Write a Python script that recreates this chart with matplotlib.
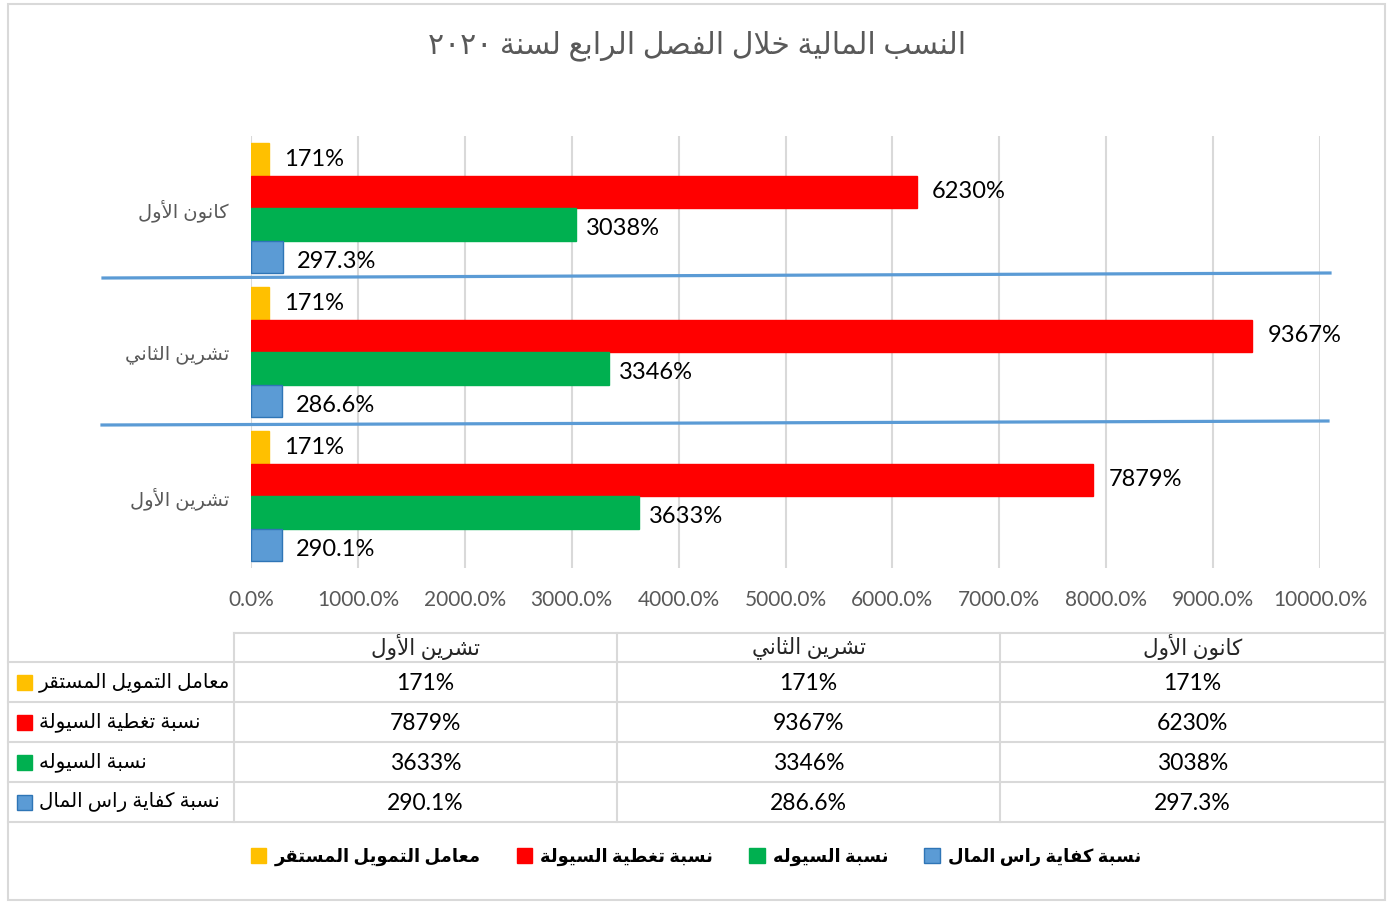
import numpy as np
import matplotlib
matplotlib.use('Agg')
import matplotlib.pyplot as plt
from matplotlib.patches import Patch, Rectangle

FAM = ['Lato', 'DejaVu Sans']
plt.rcParams['font.family'] = FAM

title = 'النسب المالية خلال الفصل الرابع لسنة ٢٠٢٠'
months = ['كانون الأول', 'تشرين الثاني', 'تشرين الأول']   # top to bottom in the chart
series = ['معامل التمويل المستقر', 'نسبة تغطية السيولة', 'نسبة السيوله', 'نسبة كفاية راس المال']
stable_funding = [171, 171, 171]
lcr = [6230, 9367, 7879]
liquidity = [3038, 3346, 3633]
capital = [297.3, 286.6, 290.1]
values = [stable_funding, lcr, liquidity, capital]
fmts = ['{:.0f}%', '{:.0f}%', '{:.0f}%', '{:.1f}%']
colors = ['#FFC000', '#FF0000', '#00B050', '#5B9BD5']
edges = ['#FFC000', '#FF0000', '#00B050', '#2E75B6']

# --- simple arabic shaping (matplotlib has no text shaping) ---
DUAL = {'ب': 0xFE8F, 'ت': 0xFE95, 'ث': 0xFE99, 'ج': 0xFE9D, 'ح': 0xFEA1, 'خ': 0xFEA5,
        'س': 0xFEB1, 'ش': 0xFEB5, 'ص': 0xFEB9, 'ض': 0xFEBD, 'ط': 0xFEC1, 'ظ': 0xFEC5,
        'ع': 0xFEC9, 'غ': 0xFECD, 'ف': 0xFED1, 'ق': 0xFED5, 'ك': 0xFED9, 'ل': 0xFEDD,
        'م': 0xFEE1, 'ن': 0xFEE5, 'ه': 0xFEE9, 'ي': 0xFEF1}
RIGHT = {'ا': 0xFE8D, 'أ': 0xFE83, 'إ': 0xFE87, 'آ': 0xFE81, 'ة': 0xFE93, 'د': 0xFEA9,
         'ذ': 0xFEAB, 'ر': 0xFEAD, 'ز': 0xFEAF, 'و': 0xFEED, 'ى': 0xFEEF,
         '\uFEFB': 0xFEFB, '\uFEF7': 0xFEF7}


def shape(word):
    word = word.replace('لأ', '\uFEF7').replace('لا', '\uFEFB')
    out = []
    for i, c in enumerate(word):
        prev = word[i - 1] if i > 0 else ''
        nxt = word[i + 1] if i + 1 < len(word) else ''
        jp = prev in DUAL
        jn = c in DUAL and (nxt in DUAL or nxt in RIGHT)
        if c in DUAL:
            out.append(chr(DUAL[c] + (3 if jp and jn else 1 if jp else 2 if jn else 0)))
        elif c in RIGHT:
            out.append(chr(RIGHT[c] + (1 if jp else 0)))
        else:
            out.append(c)
    return ''.join(out)


def ar(text):
    words = text.split(' ')[::-1]
    return ' '.join(w if w.isdigit() else shape(w)[::-1] for w in words)


W, H = 1392, 907
fig = plt.figure(figsize=(W / 100, H / 100), dpi=100)

ax = fig.add_axes([251 / W, 1 - 568 / H, (1320 - 251) / W, (568 - 136) / H])
ypos = np.arange(len(months))
h = (130 / 144) / 4
for j in range(4):
    off = -2 * h + h * (j + 0.5)
    bars = ax.barh(ypos + off, values[j], height=h, color=colors[j],
                   edgecolor=edges[j], linewidth=1, zorder=3)
    dx = [15, 15, 10, 14][j]
    dy = [0, 0, -4, -5][j]
    for b, v in zip(bars, values[j]):
        ax.annotate(fmts[j].format(v), (b.get_width(), b.get_y() + h / 2),
                    xytext=(dx, dy), textcoords='offset pixels', va='center',
                    ha='left', fontsize=17, color='black')

ax.set_xlim(0, 10000)
ax.set_ylim(2.5, -0.5)
ax.set_xticks(np.arange(0, 10001, 1000))
ax.set_xticklabels(['{:.1f}%'.format(t) for t in np.arange(0, 10001, 1000)])
ax.set_yticks(ypos)
ax.set_yticklabels([ar(m) for m in months])
ax.tick_params(axis='x', length=0, pad=16, labelsize=15, labelcolor='#595959')
ax.tick_params(axis='y', length=0, pad=16, labelsize=14, labelcolor='#595959')
ax.grid(axis='x', color='#D9D9D9', linewidth=1.5, zorder=0)
for s in ax.spines.values():
    s.set_visible(False)

# overlay in pixel coordinates for title, separators, table and border
ov = fig.add_axes([0, 0, 1, 1])
ov.set_xlim(0, W)
ov.set_ylim(H, 0)
ov.axis('off')
ov.patch.set_visible(False)

ov.add_patch(Rectangle((8, 4), 1377, 896, fill=False, edgecolor='#D9D9D9', lw=1.5))
ov.text(697, 46, ar(title), ha='center', va='center', fontsize=21.5, color='#595959')

# separators between months
ov.plot([103, 1330], [278, 273], color='#5B9BD5', lw=2.3)
ov.plot([102, 1328], [425, 421], color='#5B9BD5', lw=2.3)

# data table
gc = '#D9D9D9'
cols = [8, 234, 617, 1000, 1385]
rows = [633, 662, 702, 742, 782, 822]
ov.plot([234, 1385], [633, 633], color=gc, lw=1.5)
for y in rows[1:]:
    ov.plot([8, 1385], [y, y], color=gc, lw=1.5)
for x in cols[1:-1]:
    ov.plot([x, x], [633, 822], color=gc, lw=1.5)

tab_months = months[::-1]
for c, m in enumerate(tab_months):
    xc = (cols[c + 1] + cols[c + 2]) / 2
    ov.text(xc, (rows[0] + rows[1]) / 2, ar(m), ha='center', va='center',
            fontsize=15.5, color='#262626')
    k = months.index(m)
    for j in range(4):
        yc = (rows[j + 1] + rows[j + 2]) / 2
        ov.text(xc, yc + 1, fmts[j].format(values[j][k]), ha='center', va='center',
                fontsize=16.5, color='black')
for j in range(4):
    yc = (rows[j + 1] + rows[j + 2]) / 2
    ov.add_patch(Rectangle((17, yc - 7.5), 15, 15, facecolor=colors[j],
                           edgecolor=edges[j], lw=1))
    ov.text(39, yc, ar(series[j]), ha='left', va='center', fontsize=14.3, color='black')

# legend
handles = [Patch(facecolor=colors[j], edgecolor=edges[j], lw=1) for j in range(4)]
leg = fig.legend(handles, [ar(s) for s in series], ncol=4, loc='center',
                 bbox_to_anchor=(0.5, 1 - 857 / H), frameon=False,
                 prop={'weight': 'bold', 'size': 13, 'family': FAM},
                 handlelength=0.85, handleheight=0.85, handletextpad=0.45,
                 columnspacing=2.0)

fig.savefig('out.png', dpi=100)
